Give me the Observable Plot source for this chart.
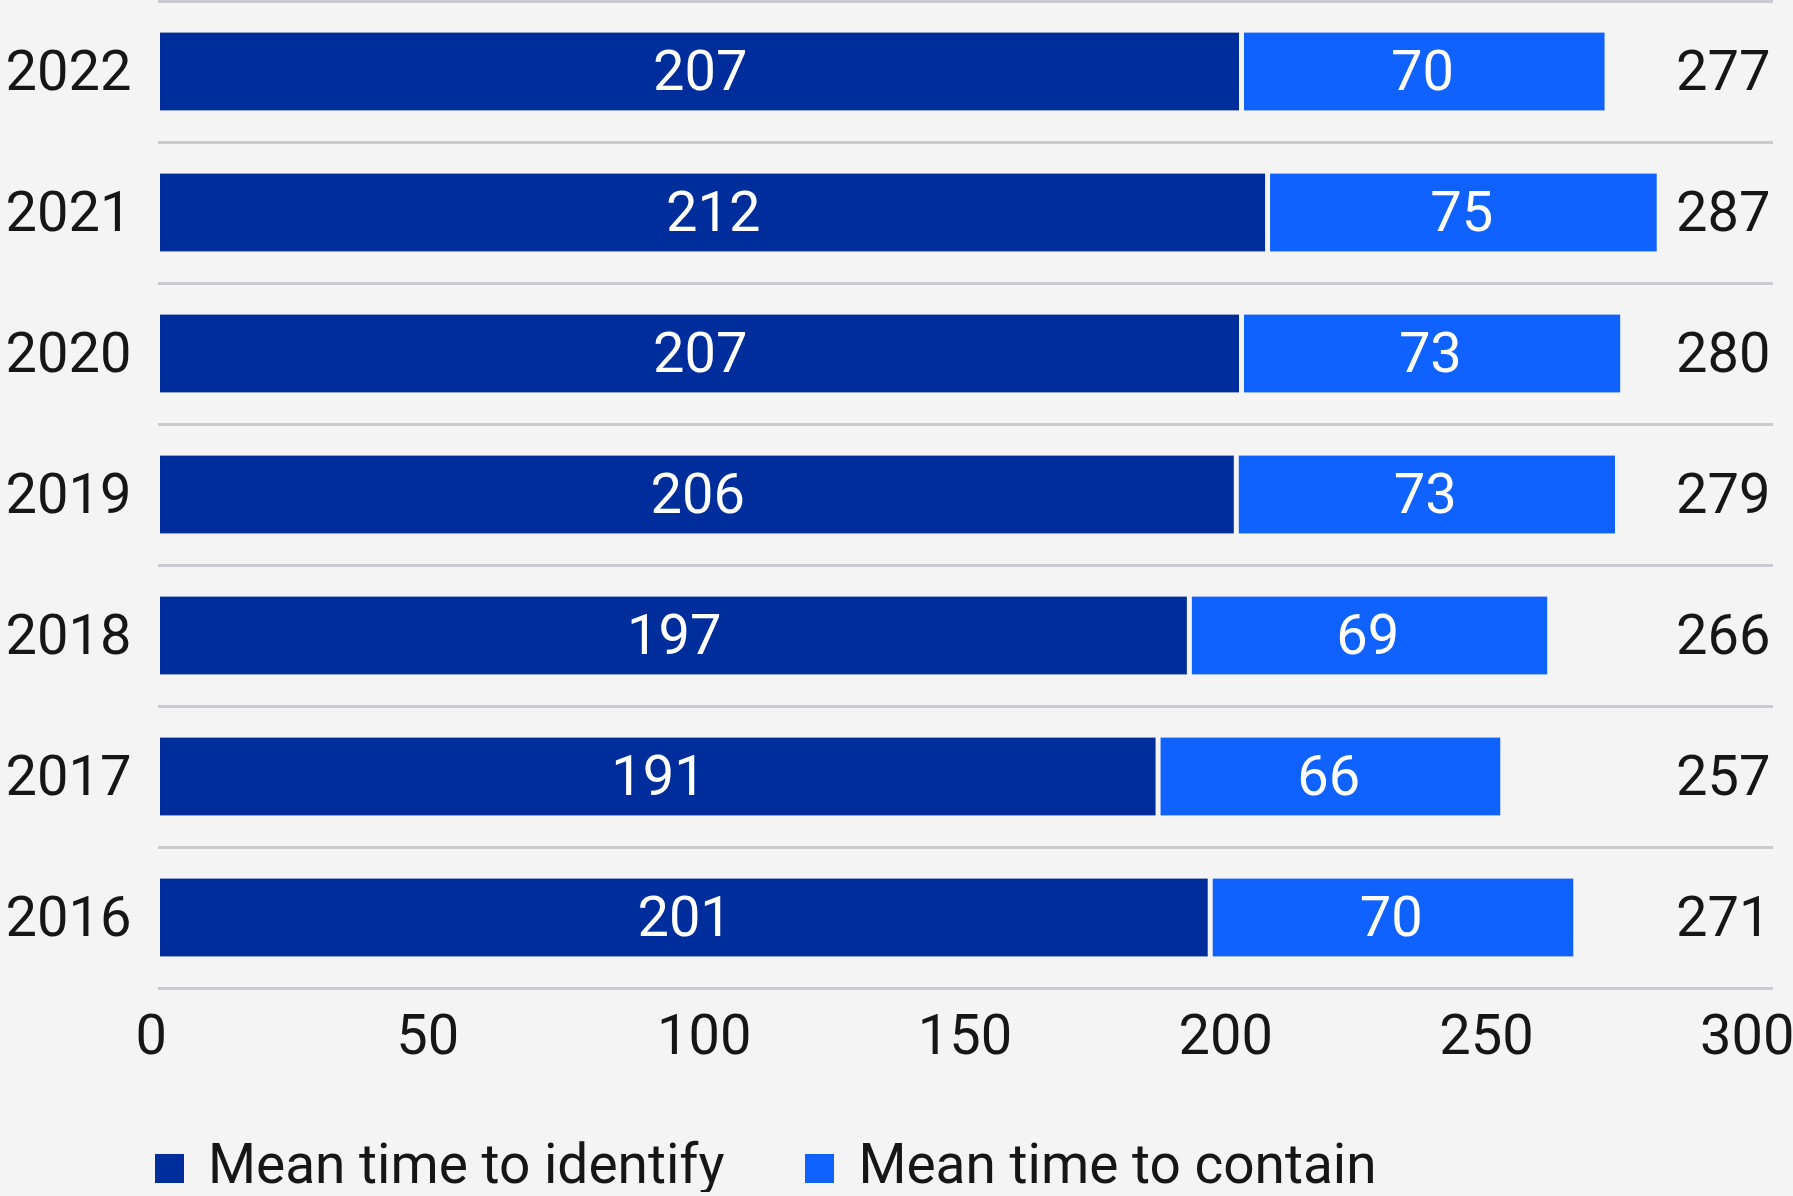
<!DOCTYPE html>
<html>
<head>
<meta charset="utf-8">
<script src="https://cdn.jsdelivr.net/npm/d3@7"></script>
<script src="https://cdn.jsdelivr.net/npm/@observablehq/plot@0.6"></script>
<style>
  body { margin: 0; background: #f4f4f4; font-family: Roboto, "Noto Sans", sans-serif; color: #161616; }
  #chart svg { display: block; }
  .legend { margin-top: 56px; padding-left: 155px; font-size: 55px; line-height: 56px; white-space: nowrap; }
  .legend .sw { display: inline-block; width: 29px; height: 29px; margin-right: 24px; }
  .legend .item + .item { margin-left: 81px; }
</style>
</head>
<body>
<div id="chart"></div>
<div class="legend" id="legend"></div>
<script>
// Days to identify and contain a breach, by year
const years = ["2022", "2021", "2020", "2019", "2018", "2017", "2016"];
const identify = [207, 212, 207, 206, 197, 191, 201];
const contain = [70, 75, 73, 73, 69, 66, 70];
const totals = [277, 287, 280, 279, 266, 257, 271];
const xTicks = [0, 50, 100, 150, 200, 250, 300];
const seriesNames = ["Mean time to identify", "Mean time to contain"];
const seriesColors = ["#002d9c", "#0f62fe"];

const rows = years.map((year, i) => ({
  year,
  identify: identify[i],
  contain: contain[i],
  total: totals[i]
}));

const width = 1793;
const height = 1080;
const marginTop = 0;
const marginBottom = 92;
const step = (height - marginTop - marginBottom) / years.length;
const barInset = 31.6;
const ink = "#161616";
const fontSize = 56;

const chart = Plot.plot({
  width,
  height,
  marginLeft: 160,
  marginRight: 68.5,
  marginTop,
  marginBottom,
  style: { background: "#f4f4f4", fontFamily: "Roboto, 'Noto Sans', sans-serif", color: ink, overflow: "visible" },
  x: { domain: [0, 300], label: null },
  y: { domain: years, padding: 0, label: null },
  marks: [
    // separators between rows
    Plot.ruleY([years[0]], { y: d => d, dy: -step / 2, stroke: "#c8ccd1", strokeWidth: 3, insetLeft: -2, insetRight: -48.5 }),
    Plot.ruleY(years, { y: d => d, dy: step / 2, stroke: "#c8ccd1", strokeWidth: 3, insetLeft: -2, insetRight: -48.5 }),
    // stacked segments
    Plot.barX(rows, {
      y: "year", x1: d => 0, x2: "identify",
      fill: seriesColors[0], insetTop: barInset, insetBottom: barInset, insetRight: 0.5
    }),
    Plot.barX(rows, {
      y: "year", x1: "identify", x2: d => d.identify + d.contain,
      fill: seriesColors[1], insetTop: barInset, insetBottom: barInset, insetLeft: 4.5
    }),
    // segment values
    Plot.text(rows, {
      y: "year", x: d => d.identify / 2, text: d => String(d.identify),
      fill: "white", fontSize
    }),
    Plot.text(rows, {
      y: "year", x: d => d.identify + d.contain / 2, text: d => String(d.contain),
      fill: "white", fontSize
    }),
    // totals on the right
    Plot.text(rows, {
      y: "year", x: d => 300, dx: 45.5, textAnchor: "end", text: d => String(d.total),
      fill: ink, fontSize
    }),
    Plot.axisX(xTicks, {
      anchor: "bottom", tickSize: 0, tickPadding: 26, textAnchor: "start", dx: -25,
      fontSize, fill: ink, label: null
    }),
    Plot.axisY({
      anchor: "left", tickSize: 0, tickPadding: 29, fontSize, fill: ink, label: null
    })
  ]
});
document.getElementById("chart").append(chart);

// legend below the plot
const legend = document.getElementById("legend");
seriesNames.forEach((name, i) => {
  const item = document.createElement("span");
  item.className = "item";
  const sw = document.createElement("span");
  sw.className = "sw";
  sw.style.background = seriesColors[i];
  item.append(sw, document.createTextNode(name));
  legend.append(item);
});
</script>
</body>
</html>
